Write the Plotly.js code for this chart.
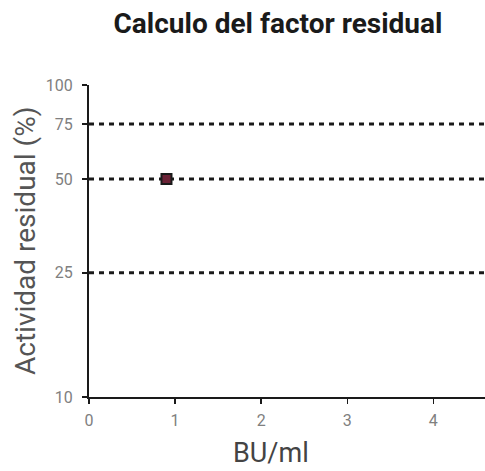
<!DOCTYPE html>
<html>
<head>
<meta charset="utf-8">
<script src="https://cdn.plot.ly/plotly-3.0.1.min.js"></script>
<style>html,body{margin:0;padding:0;background:#fff;}#chart{width:485px;height:471px;}</style>
</head>
<body>
<div id="chart"></div>
<script>
// Data
const pointX = [0.9];
const pointY = [50];
const refLevels = [25, 50, 75];
const xTickVals = [0, 1, 2, 3, 4];
const xTickText = ['0', '1', '2', '3', '4'];
const yTickVals = [10, 25, 50, 75, 100];
const yTickText = ['10', '25', '50', '75', '100'];
const xRange = [0, 4.6];

const traces = [];
refLevels.forEach(v => {
  traces.push({
    x: xRange, y: [v, v], mode: 'lines', type: 'scatter', hoverinfo: 'skip',
    line: {color: '#1a1a1a', width: 3, dash: '5px,5px'}, showlegend: false
  });
});
traces.push({
  x: pointX, y: pointY, mode: 'markers', type: 'scatter', showlegend: false,
  marker: {symbol: 'square', size: 10, color: '#6b2236', line: {color: '#1a1a1a', width: 2}}
});

const layout = {
  width: 485, height: 471,
  margin: {l: 89, r: 0, t: 85, b: 74},
  paper_bgcolor: '#fff', plot_bgcolor: '#fff',
  font: {family: 'Roboto, sans-serif'},
  title: {
    text: '<b>Calculo del factor residual</b>',
    font: {family: 'Roboto, sans-serif', size: 28, color: '#1a1a1a'},
    x: 278/485, xanchor: 'center', xref: 'container',
    y: 1 - 23/471, yanchor: 'middle', yref: 'container'
  },
  xaxis: {
    range: xRange, tickvals: xTickVals, ticktext: xTickText,
    showgrid: false, zeroline: false, showline: true, linecolor: '#1a1a1a', linewidth: 2,
    ticks: 'outside', ticklen: 5, tickwidth: 1.5, tickcolor: '#1a1a1a',
    tickfont: {size: 16, color: '#808080'}, ticklabelstandoff: 3
  },
  yaxis: {
    type: 'log', range: [1, 2], tickvals: yTickVals, ticktext: yTickText,
    showgrid: false, zeroline: false, showline: true, linecolor: '#1a1a1a', linewidth: 2,
    ticks: 'outside', ticklen: 5, tickwidth: 1.5, tickcolor: '#1a1a1a',
    tickfont: {size: 16, color: '#808080'}, ticklabelstandoff: 6
  },
  annotations: [
    {text: 'Actividad residual (%)', xref: 'paper', yref: 'paper', x: 0, y: 0.5,
     xanchor: 'center', yanchor: 'middle', xshift: -64, textangle: -90, showarrow: false,
     font: {family: 'Roboto, sans-serif', size: 28, color: '#555'}},
    {text: 'BU/ml', xref: 'paper', yref: 'paper', x: (271-89)/396, y: 0,
     xanchor: 'center', yanchor: 'middle', yshift: -56, showarrow: false,
     font: {family: 'Roboto, sans-serif', size: 27, color: '#444'}}
  ]
};

Plotly.newPlot('chart', traces, layout, {displayModeBar: false, staticPlot: true});
</script>
</body>
</html>
